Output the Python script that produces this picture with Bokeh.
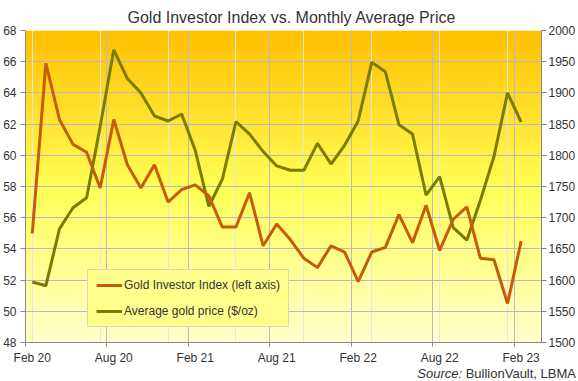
import numpy as np
from bokeh.plotting import figure
from bokeh.layouts import column
from bokeh.models import (Range1d, LinearAxis, FixedTicker, Grid, Legend,
                          LegendItem, Div)
from bokeh.embed import file_html
from bokeh.resources import INLINE

# ---------------- data ----------------
months = ["Feb 20", "Mar 20", "Apr 20", "May 20", "Jun 20", "Jul 20", "Aug 20",
          "Sep 20", "Oct 20", "Nov 20", "Dec 20", "Jan 21", "Feb 21", "Mar 21",
          "Apr 21", "May 21", "Jun 21", "Jul 21", "Aug 21", "Sep 21", "Oct 21",
          "Nov 21", "Dec 21", "Jan 22", "Feb 22", "Mar 22", "Apr 22", "May 22",
          "Jun 22", "Jul 22", "Aug 22", "Sep 22", "Oct 22", "Nov 22", "Dec 22",
          "Jan 23", "Feb 23"]
investor_index = [55.0, 65.9, 62.3, 60.7, 60.2, 57.9, 62.3, 59.4, 57.9, 59.4,
                  57.0, 57.8, 58.1, 57.4, 55.4, 55.4, 57.6, 54.2, 55.6, 54.6,
                  53.4, 52.8, 54.2, 53.8, 51.9, 53.8, 54.1, 56.2, 54.4, 56.8,
                  53.9, 55.9, 56.7, 53.4, 53.3, 50.5, 54.5]
gold_price = [1597, 1591, 1682, 1716, 1732, 1846, 1969, 1923, 1900, 1863,
              1855, 1866, 1808, 1718, 1762, 1854, 1834, 1806, 1783, 1776,
              1776, 1819, 1786, 1816, 1855, 1949, 1934, 1849, 1834, 1736,
              1766, 1684, 1664, 1728, 1798, 1900, 1853]
tick_labels = ["Feb 20", "Aug 20", "Feb 21", "Aug 21", "Feb 22", "Aug 22", "Feb 23"]
left_ticks = list(range(48, 69, 2))
right_ticks = list(range(1500, 2001, 50))

x = list(range(len(months)))
label_pos = [months.index(t) for t in tick_labels]
boundary_pos = [p - 0.5 for p in label_pos]

FONT = "Liberation Sans"
TXT = "#333333"
AXIS = "#888888"
GRID = "#b8b8c8"
ORANGE = "#c95a0a"
OLIVE = "#7b7b00"

p = figure(width=578, height=367, output_backend="svg", toolbar_location=None,
           x_range=Range1d(-0.5, len(months) + 0.5), y_range=Range1d(48, 68),
           x_axis_location=None, min_border_left=0, min_border_right=0,
           min_border_top=30, min_border_bottom=25)
p.outline_line_color = None
p.background_fill_color = "white"
p.border_fill_color = "white"

# title
p.title.text = "Gold Investor Index vs. Monthly Average Price"
p.title.align = "left"
p.title.offset = 102
p.title.text_font = FONT
p.title.text_font_size = "16px"
p.title.text_font_style = "normal"
p.title.text_color = TXT
p.title.standoff = 9

# gradient background (style only)
n = 312
t = np.linspace(0, 1, n)  # bottom -> top
st = [0.0, 0.5, 1.0]
rr = np.interp(t, st, [255, 255, 255])
gg = np.interp(t, st, [255, 255, 192])
bb = np.interp(t, st, [204, 85, 0])
img = np.empty((n, 2), dtype=np.uint32)
view = img.view(dtype=np.uint8).reshape((n, 2, 4))
view[:, :, 0] = rr[:, None]
view[:, :, 1] = gg[:, None]
view[:, :, 2] = bb[:, None]
view[:, :, 3] = 255
p.image_rgba(image=[img], x=-0.5, y=48, dw=len(months) + 1, dh=20, level="image")

# left axis
ya = p.yaxis[0]
ya.ticker = FixedTicker(ticks=left_ticks)
ya.axis_line_color = AXIS
ya.major_tick_line_color = AXIS
ya.major_tick_out = 5
ya.major_tick_in = 0
ya.minor_tick_line_color = None
ya.major_label_standoff = 4
ya.major_label_text_font = FONT
ya.major_label_text_font_size = "12px"
ya.major_label_text_color = TXT

p.ygrid.ticker = FixedTicker(ticks=left_ticks)
p.ygrid.grid_line_color = GRID

# right axis
p.extra_y_ranges = {"price": Range1d(1500, 2000)}
ra = LinearAxis(y_range_name="price", ticker=FixedTicker(ticks=right_ticks))
ra.axis_line_color = AXIS
ra.major_tick_line_color = AXIS
ra.major_tick_out = 5
ra.major_tick_in = 0
ra.minor_tick_line_color = None
ra.major_label_standoff = 2
ra.major_label_text_font = FONT
ra.major_label_text_font_size = "12px"
ra.major_label_text_color = TXT
p.add_layout(ra, "right")

# bottom axis: labels at month centres, tick marks at month boundaries (minor ticks)
xa = LinearAxis(ticker=FixedTicker(ticks=label_pos, minor_ticks=boundary_pos),
                major_label_overrides={pos: lab for pos, lab in zip(label_pos, tick_labels)})
xa.axis_line_color = AXIS
xa.major_tick_line_color = None
xa.major_tick_out = 0
xa.major_tick_in = 0
xa.minor_tick_line_color = AXIS
xa.minor_tick_out = 4
xa.minor_tick_in = 0
xa.major_label_standoff = 4
xa.major_label_text_font = FONT
xa.major_label_text_font_size = "12px"
xa.major_label_text_color = TXT
p.add_layout(xa, "below")

p.add_layout(Grid(dimension=0, ticker=FixedTicker(ticks=boundary_pos),
                  grid_line_color=GRID))

# lines
r_gold = p.line(x, gold_price, y_range_name="price", line_color=OLIVE, line_width=3)
r_idx = p.line(x, investor_index, line_color=ORANGE, line_width=3)

legend = Legend(items=[LegendItem(label="Gold Investor Index (left axis)", renderers=[r_idx]),
                       LegendItem(label="Average gold price ($/oz)", renderers=[r_gold])],
                location=(62, 15))
legend.background_fill_color = "#ffff8c"
legend.background_fill_alpha = 1
legend.border_line_color = "#b4b4c8"
legend.label_text_font = FONT
legend.label_text_font_size = "12px"
legend.label_text_color = TXT
legend.glyph_width = 26
legend.glyph_height = 14
legend.label_height = 14
legend.label_standoff = 2
legend.padding = 8
legend.spacing = 12
legend.margin = 0
p.add_layout(legend)

# source note
source = Div(text="<i>Source:</i> BullionVault, LBMA", width=578, height=14,
             margin=(0, 0, 0, 0),
             styles={"text-align": "right", "font-family": FONT, "font-size": "13px",
                     "color": TXT, "line-height": "14px", "padding-right": "2px",
                     "box-sizing": "border-box", "width": "578px"})

layout = column(p, source, spacing=0)
open("out.html", "w").write(file_html(layout, INLINE))
